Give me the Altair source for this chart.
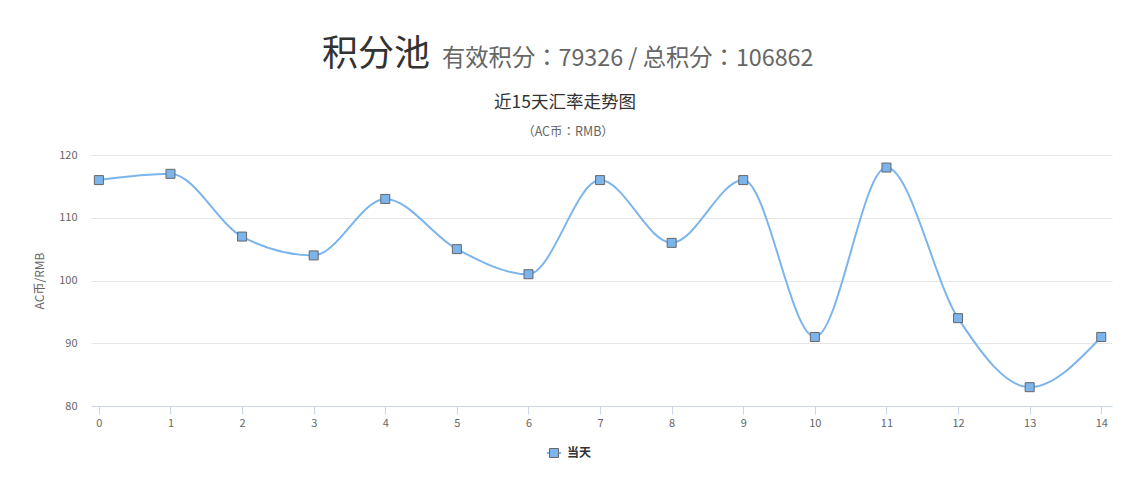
import altair as alt
import pandas as pd

days = list(range(15))
rates = [116, 117, 107, 104, 113, 105, 101, 116, 106, 116, 91, 118, 94, 83, 91]
series_name = "当天"
main_title = "积分池"
main_subtitle = "有效积分：79326 / 总积分：106862"
chart_title = "近15天汇率走势图"
chart_subtitle = "（AC币：RMB）"
y_title = "AC币/RMB"
y_ticks = [80, 90, 100, 110, 120]

FONT = "Noto Sans CJK SC"
FONT_COLON = "Noto Sans CJK JP"
LINE = "#7cb5ec"
W, H = 1021, 251

df = pd.DataFrame({"day": days, "rate": rates, "series": [series_name] * len(days)})

x = alt.X(
    "day:Q",
    scale=alt.Scale(domain=[-0.11, 14.15], nice=False, zero=False),
    axis=alt.Axis(values=days, grid=False, domainColor="#ccd6eb", tickColor="#ccd6eb",
                  tickSize=8, labelColor="#666666", labelFontSize=11, labelPadding=3,
                  labelFont=FONT, title=None, format="d"),
)
y = alt.Y(
    "rate:Q",
    scale=alt.Scale(domain=[80, 120], nice=False, zero=False),
    axis=alt.Axis(values=y_ticks, grid=True, gridColor="#e6e6e6", domain=False, ticks=False,
                  labelColor="#666666", labelFontSize=11, labelPadding=14, labelFont=FONT,
                  title=y_title, titleColor="#666666", titleFontSize=12, titleFont=FONT,
                  titleFontWeight="normal", titlePadding=12),
)

base = alt.Chart(df)
line = base.mark_line(interpolate="monotone", color=LINE, strokeWidth=2).encode(x=x, y=y)
pts = base.mark_point(shape="square", size=81, filled=True, fill=LINE, stroke="#666666",
                      strokeWidth=1, opacity=1).encode(x=x, y=y)

def txt(s, xv, yv, size, color, align="left", weight="normal", font=FONT):
    return alt.Chart(pd.DataFrame({"t": [s]})).mark_text(
        align=align, baseline="alphabetic", fontSize=size, color=color, font=font,
        fontWeight=weight
    ).encode(x=alt.value(xv), y=alt.value(yv), text="t:N")

t1 = txt(main_title, 231, -89, 36, "#333333")
t2 = txt(main_subtitle, 351, -89, 23.3, "#666666", font=FONT_COLON)
t3 = txt(chart_title, 474, -47, 17.5, "#333333", align="center")
t4 = txt(chart_subtitle, 477, -19, 12.5, "#666666", align="center", font=FONT_COLON)

leg_df = pd.DataFrame({"s": [series_name]})
leg_line = alt.Chart(leg_df).mark_rule(color=LINE, strokeWidth=2).encode(
    x=alt.value(456), x2=alt.value(470), y=alt.value(298))
leg_pt = alt.Chart(leg_df).mark_point(shape="square", size=81, filled=True, fill=LINE,
                                      stroke="#666666", strokeWidth=1, opacity=1).encode(
    x=alt.value(463), y=alt.value(298))
leg_txt = alt.Chart(leg_df).mark_text(align="left", baseline="middle", fontSize=12,
                                      fontWeight="bold", color="#333333", font=FONT).encode(
    x=alt.value(476), y=alt.value(298), text="s:N")

chart = alt.layer(line, pts, t1, t2, t3, t4, leg_line, leg_pt, leg_txt).properties(
    width=W, height=H,
    autosize=alt.AutoSizeParams(type="none"),
    padding={"left": 83, "top": 147, "right": 6, "bottom": 74},
    background="white",
).configure_view(stroke=None)

chart.save("out.html", embed_options={"renderer": "svg", "actions": False})
